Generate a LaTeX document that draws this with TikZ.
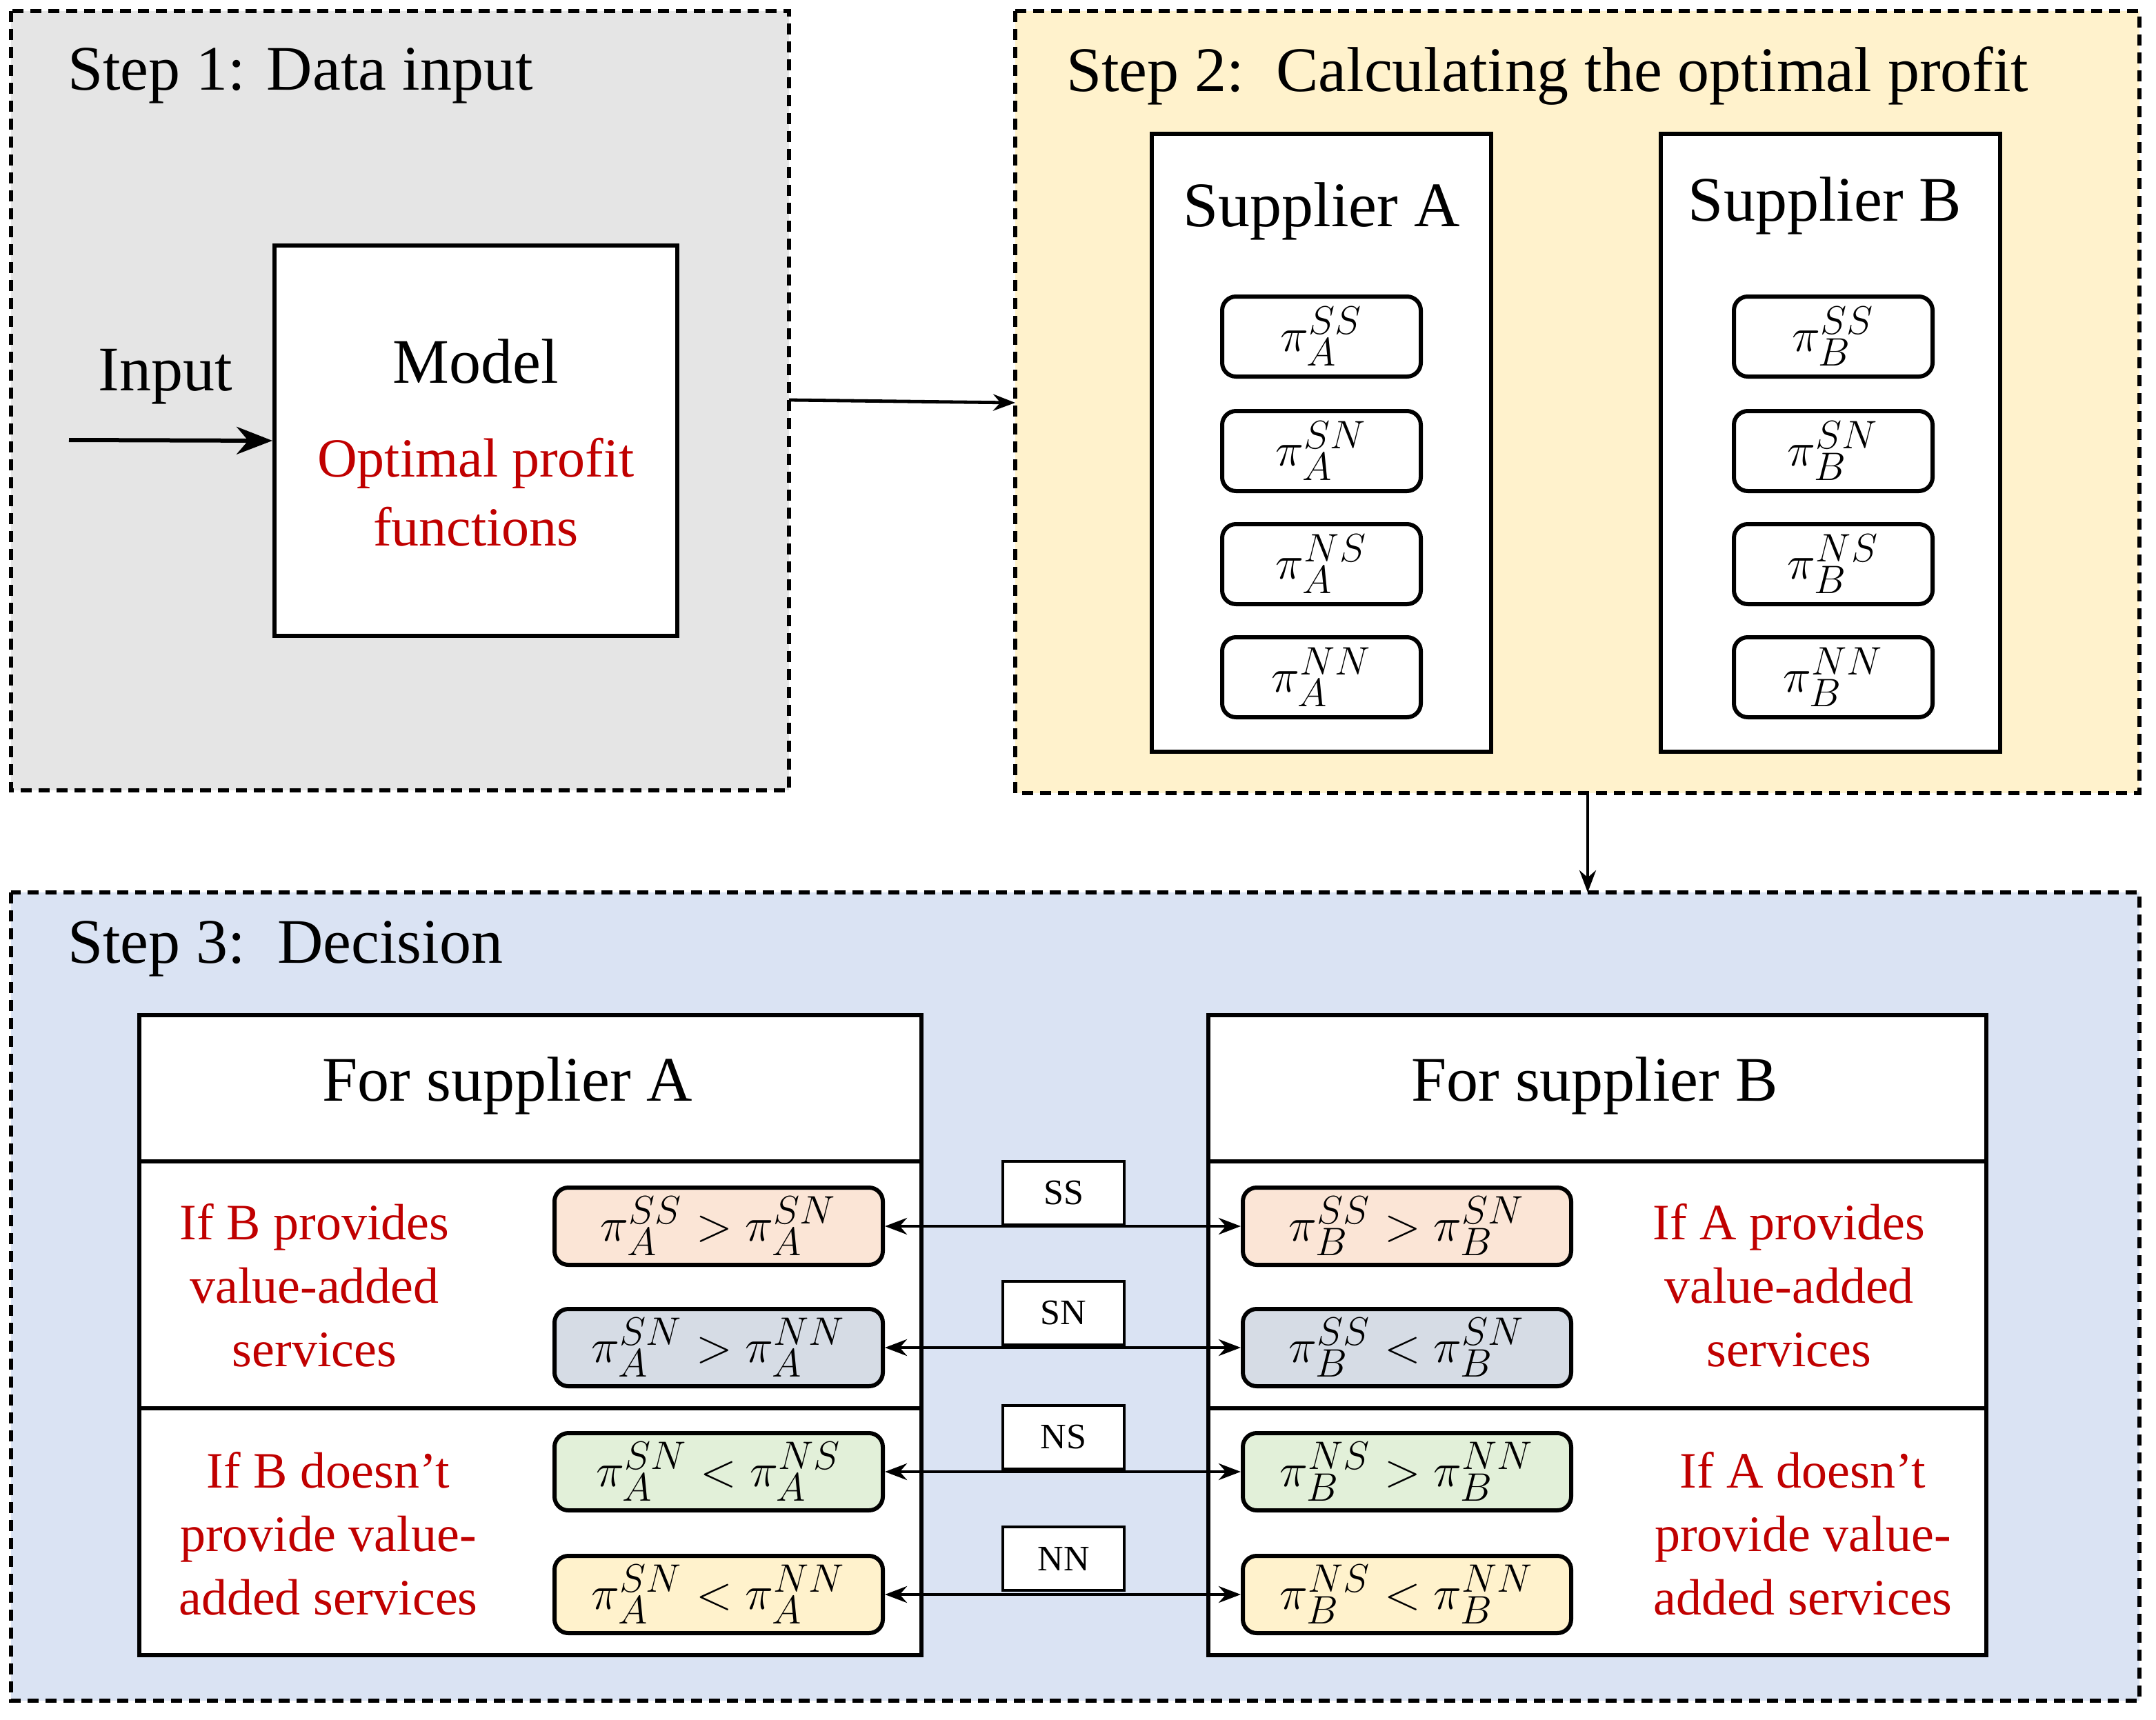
\documentclass[tikz,border=0pt]{standalone}
\usepackage{fontspec}
\setmainfont{Liberation Serif}
\usetikzlibrary{arrows.meta}
\definecolor{rd}{HTML}{C00000}
\definecolor{c1}{HTML}{FBE5D6}\definecolor{c2}{HTML}{D6DCE5}\definecolor{c3}{HTML}{E2F0D9}\definecolor{c4}{HTML}{FFF2CC}
\definecolor{c5}{HTML}{DAE3F3}
\begin{document}
\begin{tikzpicture}[x=0.5pt,y=-0.5pt,
 stepbox/.style={draw,dash pattern=on 4pt off 2.5pt,line width=1.5pt},
 big/.style={font=\fontsize{23}{26}\selectfont},
 red/.style={text=rd,font=\fontsize{18.5}{23}\selectfont,align=center},
 pib/.style={draw,line width=1.5pt,rounded corners=5pt,minimum width=72pt,minimum height=29pt,font=\fontsize{19}{20}\selectfont},
 cmp/.style={draw,line width=1.5pt,rounded corners=5pt,minimum width=119pt,minimum height=28pt,font=\fontsize{19}{20}\selectfont},
 lab/.style={draw,line width=1pt,fill=white,minimum width=44pt,minimum height=23pt,font=\fontsize{13}{15}\selectfont},
 arr/.style={-{Stealth[length=8pt]},line width=1.2pt}]
\useasboundingbox (0,0) rectangle (1563,1247);
\path[stepbox,fill=black!10] (8,8) rectangle (572,573);
\path[stepbox,fill=c4] (736,8) rectangle (1551,575);
\path[stepbox,fill=c5] (8,647) rectangle (1551,1233);
\node[big,anchor=west] (t1) at (42,55) {Step 1: Data input};
\node[big,anchor=west] (t2) at (766,55) {Step 2:\ \ Calculating the optimal profit};
\node[big,anchor=west] (t3) at (42,688) {Step 3:\ \ Decision};
% step1
\node[draw,line width=1.5pt,fill=white,minimum width=146pt,minimum height=141.5pt] (model) at (345,319.5) {};
\node[big] (mt) at (345,262) {Model};
\node[red,font=\fontsize{20}{25}\selectfont] (opt) at (345,357) {Optimal profit\\functions};
\node[big] (in) at (120,273) {Input};
\coordinate (ins) at (50,319);
\draw[-{Stealth[length=13pt,width=10pt]},line width=1.5pt] (ins) -- (model.west);
\coordinate (s1e) at (572,290); \coordinate (s2w) at (736,292);
\draw[arr] (s1e) -- (s2w);
% step2
\node[draw,line width=1.5pt,fill=white,minimum width=123pt,minimum height=224pt] (SA) at (958,321) {};
\node[draw,line width=1.5pt,fill=white,minimum width=123pt,minimum height=224pt] (SB) at (1327,321) {};
\node[big] (sat) at (958,153) {Supplier A};
\node[big] (sbt) at (1323,149) {Supplier B};
\foreach \s/\y [count=\i] in {SS/244,SN/327,NS/409,NN/491}{
 \node[pib,fill=white] (a\i) at (958,\y) {$\pi_A^{\s}$};
 \node[pib,fill=white] (b\i) at (1329,\y) {$\pi_B^{\s}$};}
\coordinate (s2s) at (1151,575); \coordinate (s3n) at (1151,647);
\draw[arr] (s2s) -- (s3n);
% step3
\node[draw,line width=1.5pt,fill=white,minimum width=283.5pt,minimum height=232pt] (FA) at (384.5,968) {};
\node[draw,line width=1.5pt,fill=white,minimum width=282pt,minimum height=232pt] (FB) at (1158,968) {};
\draw[line width=1.5pt] (101,842) -- (668,842) (101,1021) -- (668,1021) (876,842) -- (1440,842) (876,1021) -- (1440,1021);
\node[big] (fat) at (368,787) {For supplier A};
\node[big] (fbt) at (1156,787) {For supplier B};
\node[red] (r1) at (228,932) {If B provides\\value-added\\services};
\node[red] (r2) at (1297,932) {If A provides\\value-added\\services};
\node[red] (r3) at (238,1112) {If B doesn’t\\provide value-\\added services};
\node[red] (r4) at (1307,1112) {If A doesn’t\\provide value-\\added services};
\node[cmp,fill=c1] (l1) at (521,889) {$\pi_A^{SS}>\pi_A^{SN}$};
\node[cmp,fill=c2] (l2) at (521,977) {$\pi_A^{SN}>\pi_A^{NN}$};
\node[cmp,fill=c3] (l3) at (521,1067) {$\pi_A^{SN}<\pi_A^{NS}$};
\node[cmp,fill=c4] (l4) at (521,1156) {$\pi_A^{SN}<\pi_A^{NN}$};
\node[cmp,fill=c1] (q1) at (1020,889) {$\pi_B^{SS}>\pi_B^{SN}$};
\node[cmp,fill=c2] (q2) at (1020,977) {$\pi_B^{SS}<\pi_B^{SN}$};
\node[cmp,fill=c3] (q3) at (1020,1067) {$\pi_B^{NS}>\pi_B^{NN}$};
\node[cmp,fill=c4] (q4) at (1020,1156) {$\pi_B^{NS}<\pi_B^{NN}$};
\foreach \s/\y [count=\i] in {SS/865,SN/952,NS/1042,NN/1130}{
 \node[lab] (k\i) at (771,\y) {\s};
 \draw[{Stealth[length=8pt]}-{Stealth[length=8pt]},line width=1.2pt] (l\i.east) -- (q\i.west);}
\end{tikzpicture}
\end{document}
